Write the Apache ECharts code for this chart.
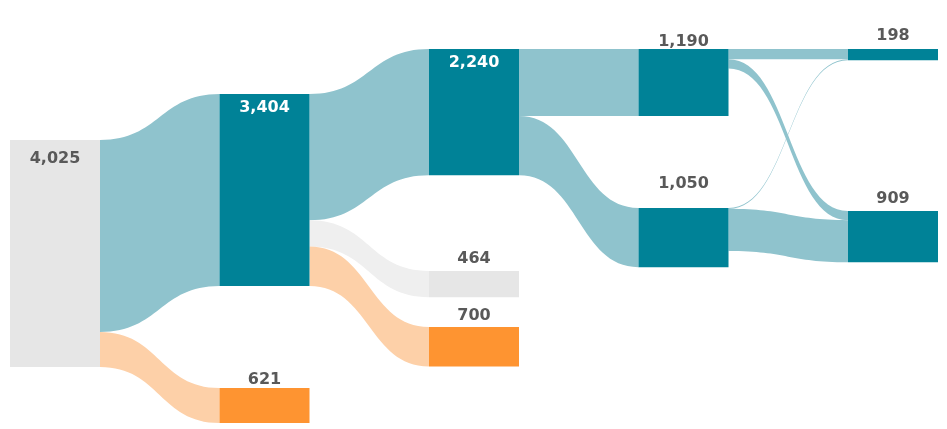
<!DOCTYPE html>
<html>
<head>
<meta charset="utf-8">
<script src="https://cdn.jsdelivr.net/npm/echarts@6/dist/echarts.min.js"></script>
<style>
html,body{margin:0;padding:0;background:#fff;}
#chart{width:947px;height:429px;}
</style>
</head>
<body>
<div id="chart"></div>
<script>
// ---- data ----
const nodeNames = ['Stage 0', 'Stage 1A', 'Stage 1B', 'Stage 2A', 'Stage 2B', 'Stage 2C', 'Stage 3A', 'Stage 3B', 'Stage 4A', 'Stage 4B'];
const nodeValues = [4025, 3404, 621, 2240, 464, 700, 1190, 1050, 198, 909];
const nodeKinds = ['gray', 'teal', 'orange', 'teal', 'gray', 'orange', 'teal', 'teal', 'teal', 'teal'];

const linkSources = ['Stage 0', 'Stage 0', 'Stage 1A', 'Stage 1A', 'Stage 1A', 'Stage 2A', 'Stage 2A', 'Stage 3A', 'Stage 3A', 'Stage 3B', 'Stage 3B'];
const linkTargets = ['Stage 1A', 'Stage 1B', 'Stage 2A', 'Stage 2B', 'Stage 2C', 'Stage 3A', 'Stage 3B', 'Stage 4A', 'Stage 4B', 'Stage 4A', 'Stage 4B'];
const linkValues = [3404, 621, 2240, 464, 700, 1190, 1050, 183, 162, 15, 747];

// ---- styles / layout (not data) ----
const palette = {
  teal:   { node: '#008297', link: '#8fc3cd' },
  gray:   { node: '#e6e6e6', link: '#efefef' },
  orange: { node: '#fe9431', link: '#fdd0a8' }
};
const area = { left: 10, right: 9, top: 49, height: 235 };
const nodeTopPx = [140, 94, 388, 49, 271, 327, 49, 208, 49, 211];
const labelCfg = [
  { position: 'insideTop', distance: 11, color: '#595959' },
  { position: 'insideTop', distance: 6, color: '#ffffff' },
  { position: 'top', distance: 0, color: '#595959' },
  { position: 'insideTop', distance: 6, color: '#ffffff' },
  { position: 'top', distance: 4, color: '#595959' },
  { position: 'top', distance: 3, color: '#595959' },
  { position: 'top', distance: -1, color: '#595959' },
  { position: 'top', distance: 16, color: '#595959' },
  { position: 'top', distance: 5, color: '#595959' },
  { position: 'top', distance: 4, color: '#595959' }
];

const kindOf = {};
nodeNames.forEach((n, i) => kindOf[n] = nodeKinds[i]);

const nodes = nodeNames.map((name, i) => ({
  name: name,
  value: nodeValues[i],
  localY: (nodeTopPx[i] - area.top) / area.height,
  itemStyle: { color: palette[nodeKinds[i]].node, borderWidth: 0 },
  label: {
    show: true,
    position: labelCfg[i].position,
    distance: labelCfg[i].distance,
    color: labelCfg[i].color
  }
}));

const links = linkSources.map((s, i) => ({
  source: s,
  target: linkTargets[i],
  value: linkValues[i],
  lineStyle: { color: palette[kindOf[linkTargets[i]]].link, opacity: 1 }
}));

const chart = echarts.init(document.getElementById('chart'), null, { renderer: 'canvas' });
chart.setOption({
  animation: false,
  backgroundColor: '#ffffff',
  series: [{
    type: 'sankey',
    left: area.left,
    right: area.right,
    top: area.top,
    bottom: 429 - area.top - area.height,
    nodeWidth: 90,
    nodeGap: 8,
    nodeAlign: 'left',
    layoutIterations: 0,
    draggable: false,
    emphasis: { disabled: true },
    data: nodes,
    links: links,
    label: {
      fontFamily: 'DejaVu Sans',
      fontWeight: 'bold',
      fontSize: 16,
      formatter: function (p) { return Number(p.value).toLocaleString('en-US'); }
    },
    lineStyle: { curveness: 0.5, opacity: 1 }
  }]
});
</script>
</body>
</html>
